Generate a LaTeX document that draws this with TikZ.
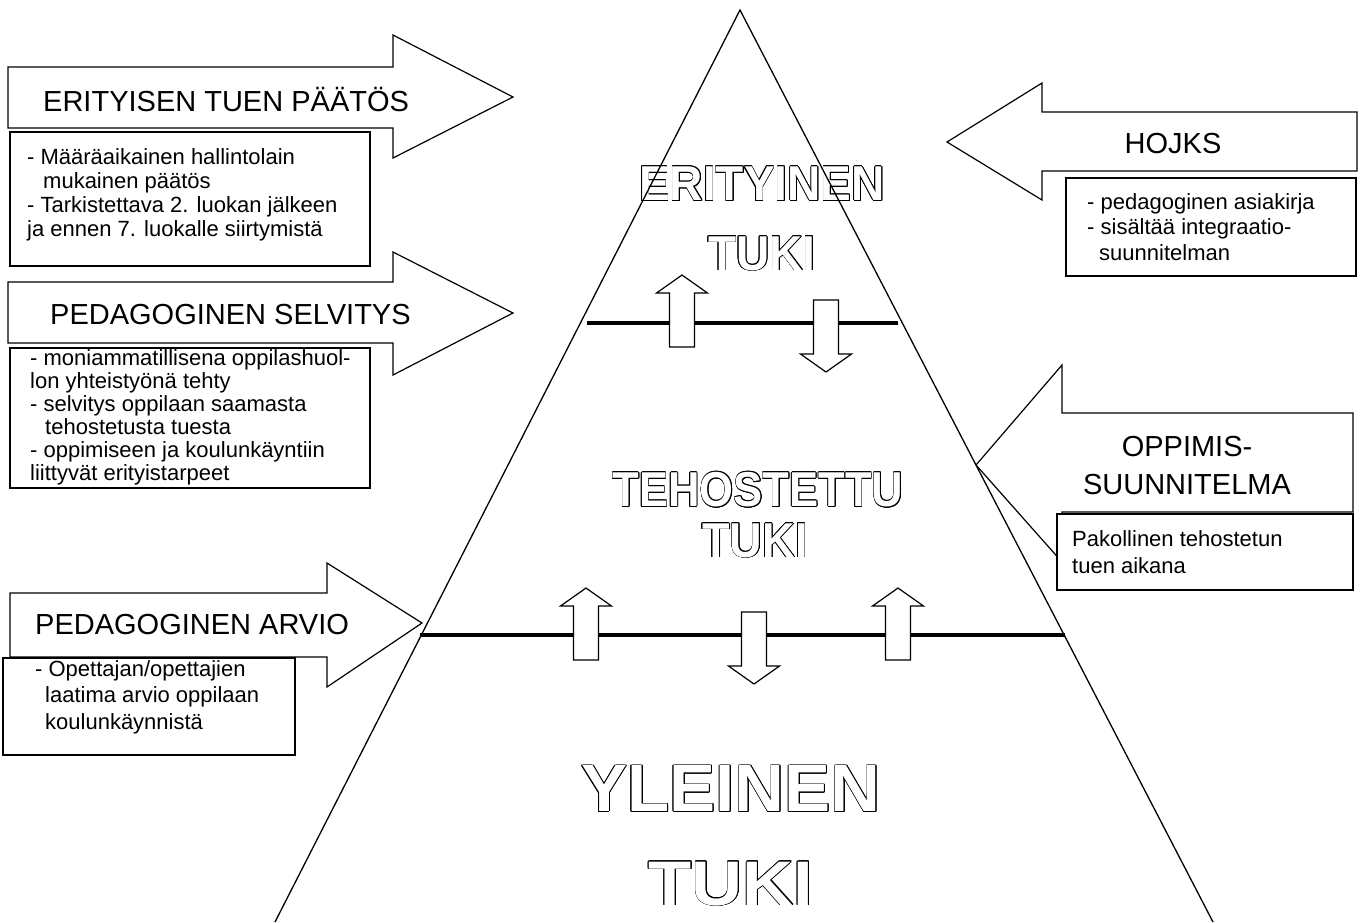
\documentclass[tikz,border=0pt]{standalone}
\usepackage{fontspec}
\setmainfont{Liberation Sans}
\usepackage{contour}
\contourlength{0.7pt}
\tikzset{blockarrow/.style={draw=black, fill=white, line width=1.2pt},
infobox/.style={draw=black, fill=white, line width=1.2pt},
titletext/.style={anchor=base west, inner sep=0pt, font=\fontsize{29}{38}\selectfont},
boxtext/.style={anchor=base west, inner sep=0pt, align=left},
leveltext/.style={inner sep=0pt, text=white, transform shape},
pyramidline/.style={line width=1.3pt},
levelline/.style={line width=4pt},
uparrow/.pic={\path[blockarrow] (-12.5,0) -- (-12.5,-54) -- (-25.5,-54) -- (0,-72) -- (25.5,-54) -- (12.5,-54) -- (12.5,0) -- cycle;},
downarrow/.pic={\path[blockarrow] (-12.5,0) -- (-12.5,54) -- (-25.5,54) -- (0,72) -- (25.5,54) -- (12.5,54) -- (12.5,0) -- cycle;},}

\begin{document}
\begin{tikzpicture}[x=1pt, y=-1pt]
\useasboundingbox[fill=white] (0,0) rectangle (1360,922);
% left side
\path[blockarrow] (8,67) -- (393,67) -- (393,35) -- (513,97) -- (393,158) -- (393,128) -- (8,128) -- cycle;
\path[blockarrow] (8,282) -- (393,282) -- (393,252) -- (513,313) -- (393,375) -- (393,343) -- (8,343) -- cycle;
\path[blockarrow] (10,593) -- (327,593) -- (327,563) -- (422,623) -- (327,687) -- (327,657) -- (10,657) -- cycle;
\path[infobox] (10,132) rectangle (370,266);
\path[infobox] (10,348) rectangle (370,488);
\path[infobox] (3,658) rectangle (295,755);
\node[titletext] (paatos) at (43,111) {ERITYISEN TUEN PÄÄTÖS};
\node[titletext] (selvitys) at (50,324) {PEDAGOGINEN SELVITYS};
\node[titletext] (arvio) at (35,634) {PEDAGOGINEN ARVIO};
% base = last line
\node[boxtext, font=\fontsize{22}{24}\selectfont] (paatosinfo) at (27,236)
  {- Määräaikainen hallintolain\\\hspace*{16pt}mukainen päätös\\- Tarkistettava 2. luokan jälkeen\\ja ennen 7. luokalle siirtymistä};
\node[boxtext, font=\fontsize{22}{23}\selectfont] (selvitysinfo) at (30,480)
  {- moniammatillisena oppilashuol-\\lon yhteistyönä tehty\\- selvitys oppilaan saamasta\\\hspace*{15pt}tehostetusta tuesta\\- oppimiseen ja koulunkäyntiin\\liittyvät erityistarpeet};
\node[boxtext, font=\fontsize{22}{26.5}\selectfont] (arvioinfo) at (35,729)
  {- Opettajan/opettajien\\\hspace*{10pt}laatima arvio oppilaan\\\hspace*{10pt}koulunkäynnistä};
% right side
\path[blockarrow] (1357,112) -- (1042,112) -- (1042,83) -- (947,142) -- (1042,200) -- (1042,171) -- (1357,171) -- cycle;
\path[blockarrow] (1353,413) -- (1062,413) -- (1062,365) -- (976,465) -- (1062,562) -- (1062,512) -- (1353,512) -- cycle;
\path[infobox] (1066,178) rectangle (1356,276);
\path[infobox] (1057,514) rectangle (1353,590);
\node[titletext, anchor=base] (hojks) at (1173,153) {HOJKS};
\node[titletext, anchor=base, align=center] (suunnitelma) at (1187,494) {OPPIMIS-\\SUUNNITELMA};
\node[boxtext, font=\fontsize{22}{25.5}\selectfont] (hojksinfo) at (1087,260)
  {- pedagoginen asiakirja\\- sisältää integraatio-\\\hspace*{12pt}suunnitelman};
\node[boxtext, font=\fontsize{22}{27}\selectfont] (suunnitelmainfo) at (1072,573)
  {Pakollinen tehostetun\\tuen aikana};
% levels
\node[leveltext, xscale=.94, font=\bfseries\fontsize{49}{58}\selectfont] (erityinen) at (762,184) {\contour{black}{ERITYINEN}};
\node[leveltext, xscale=.94, font=\bfseries\fontsize{49}{58}\selectfont] (tuki1) at (762,254) {\contour{black}{TUKI}};
\node[leveltext, xscale=.89, font=\bfseries\fontsize{49}{58}\selectfont] (tehostettu) at (758,490) {\contour{black}{TEHOSTETTU}};
\node[leveltext, xscale=.92, font=\bfseries\fontsize{49}{58}\selectfont] (tuki2) at (755,541) {\contour{black}{TUKI}};
\node[leveltext, xscale=1.03, font=\bfseries\fontsize{67}{80}\selectfont] (yleinen) at (731,789) {\contour{black}{YLEINEN}};
\node[leveltext, xscale=1.12, font=\bfseries\fontsize{63}{76}\selectfont] (tuki3) at (731,884) {\contour{black}{TUKI}};
% pyramid
\coordinate (apex) at (740,10);
\coordinate (baseL) at (275,922);
\coordinate (baseR) at (1213,922);
\draw[pyramidline] (baseL) -- (apex) -- (baseR);
\coordinate (raja1L) at (587,323);
\coordinate (raja1R) at (898,323);
\coordinate (raja2L) at (420,635);
\coordinate (raja2R) at (1065,635);
\draw[levelline] (raja1L) -- (raja1R);
\draw[levelline] (raja2L) -- (raja2R);
\pic at (682,347) {uparrow};
\pic at (826,300) {downarrow};
\pic at (586,660) {uparrow};
\pic at (754,612) {downarrow};
\pic at (898,660) {uparrow};
\end{tikzpicture}
\end{document}
